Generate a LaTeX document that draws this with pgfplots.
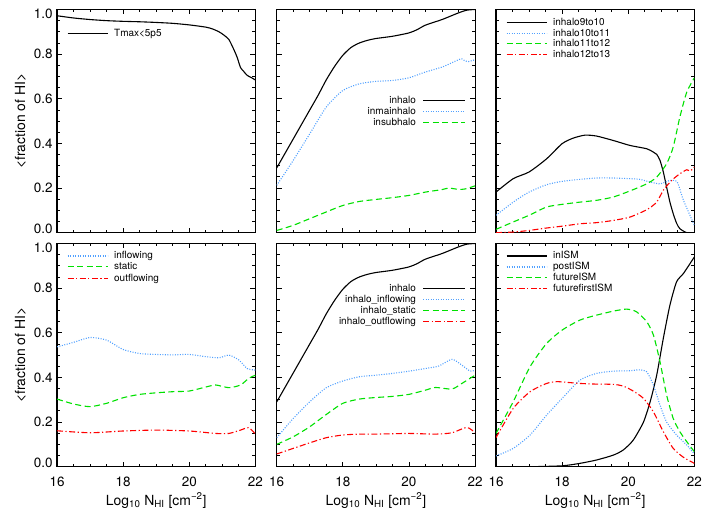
\documentclass[border=0pt]{standalone}
\usepackage{fontspec}
\setmainfont{TeX Gyre Heros}
\usepackage{pgfplots}
\pgfplotsset{compat=1.18}

\definecolor{lblue}{RGB}{80,160,255}
\definecolor{lgreen}{RGB}{0,225,0}
\definecolor{lred}{RGB}{255,0,0}

\tikzset{
  sblack/.style={draw=black, line width=1.1bp},
  sblue/.style={draw=lblue, line width=1.1bp, dash pattern=on 1bp off 1.5bp},
  sgreen/.style={draw=lgreen, line width=1.1bp, dash pattern=on 6bp off 3.5bp},
  sred/.style={draw=lred, line width=1.1bp, dash pattern=on 6bp off 2.5bp on 1.2bp off 2.5bp},
  legtext/.style={font=\fontsize{10}{11}\selectfont, inner sep=0pt, text height=6bp, text depth=0pt},
}

% legend entries: line then text (L), or text then line (R)
\newcommand{\legL}[3]{%
  \draw[#1] ([xshift=10.5bp,yshift=-#2bp]rel axis cs:0,1) -- ([xshift=50.5bp,yshift=-#2bp]rel axis cs:0,1);
  \node[legtext, anchor=west] at ([xshift=57bp,yshift=-#2bp]rel axis cs:0,1) {#3};}
\newcommand{\legR}[3]{%
  \draw[#1] ([xshift=-52bp,yshift=-#2bp]rel axis cs:1,1) -- ([xshift=-10bp,yshift=-#2bp]rel axis cs:1,1);
  \node[legtext, anchor=east] at ([xshift=-59bp,yshift=-#2bp]rel axis cs:1,1) {#3};}

\pgfplotsset{
  panel/.style={
    scale only axis, width=198.4bp, height=223.2bp, anchor=south west,
    xmin=16, xmax=22, ymin=0, ymax=1,
    xtick={16,18,20,22}, minor x tick num=3,
    ytick={0,0.2,0.4,0.6,0.8,1}, minor y tick num=3,
    tick align=inside, tick pos=both,
    major tick length=5bp, minor tick length=3bp,
    axis line style={line width=1.1bp},
    every tick/.style={black, line width=0.8bp},
    xticklabels={}, yticklabels={},
    tick label style={font=\fontsize{13.5}{14}\selectfont},
    label style={font=\fontsize{14}{15}\selectfont},
    every axis plot/.append style={smooth, tension=0.4},
  },
  ylab/.style={
    yticklabels={{\raisebox{0.4\height}[\height][\depth]{0.0}},0.2,0.4,0.6,0.8,{\raisebox{-0.5\height}[\height][\depth]{1.0}}},
    yticklabel style={anchor=east, inner sep=0pt, xshift=-4.3bp},
    ylabel={<fraction of HI>},
    ylabel style={at={(axis description cs:-0.161,0.5)}, anchor=base},
  },
  xlab/.style={
    xticklabels={16,18,20,22},
    xticklabel style={anchor=north, inner sep=0pt, yshift=-10bp},
    xlabel={Log\textsubscript{10} N\textsubscript{HI} [cm\textsuperscript{−2}]},
    xlabel style={at={(axis description cs:0.5,-0.1716)}, anchor=base},
  },
}

\begin{document}
\begin{tikzpicture}
\useasboundingbox (0,0) rectangle (709bp,519bp);

% top left
\begin{axis}[panel, ylab, at={(57bp,286.3bp)}]
\addplot[sblack] coordinates {(16,0.972)(16.5,0.962)(17,0.955)(17.5,0.950)(18,0.947)(18.5,0.945)(19,0.942)(19.5,0.938)(20,0.931)(20.5,0.921)(20.7,0.913)(20.9,0.900)(21.05,0.885)(21.2,0.865)(21.35,0.82)(21.45,0.785)(21.55,0.74)(21.65,0.722)(21.75,0.705)(21.9,0.693)(22,0.684)};
\legL{sblack}{23.7}{Tmax<5p5}
\end{axis}

% top middle
\begin{axis}[panel, at={(276.7bp,286.3bp)}]
\addplot[sblack] coordinates {(16,0.29)(16.25,0.355)(16.5,0.42)(16.75,0.485)(17,0.55)(17.25,0.615)(17.5,0.685)(17.75,0.745)(18,0.795)(18.25,0.83)(18.5,0.85)(18.75,0.862)(19,0.87)(19.5,0.88)(20,0.895)(20.25,0.91)(20.5,0.93)(21,0.955)(21.5,0.985)(21.75,0.997)(22,1.0)};
\addplot[sblue] coordinates {(16,0.212)(16.5,0.324)(17,0.443)(17.5,0.563)(18,0.637)(18.5,0.667)(19,0.678)(19.5,0.682)(20,0.694)(20.5,0.72)(21,0.742)(21.5,0.775)(21.6,0.779)(21.7,0.769)(21.8,0.767)(22,0.775)};
\addplot[sgreen] coordinates {(16,0.01)(16.5,0.033)(17,0.063)(17.5,0.093)(18,0.122)(18.5,0.14)(19,0.149)(19.5,0.157)(20,0.167)(20.5,0.182)(21,0.193)(21.2,0.2)(21.5,0.194)(21.7,0.196)(22,0.21)};
\legR{sblack}{90.7}{inhalo}
\legR{sblue}{101.7}{inmainhalo}
\legR{sgreen}{112.7}{insubhalo}
\end{axis}

% top right
\begin{axis}[panel, at={(496bp,286.3bp)}]
\addplot[sblack] coordinates {(16,0.182)(16.52,0.242)(17,0.272)(17.53,0.331)(18,0.399)(18.34,0.424)(18.69,0.437)(19.04,0.433)(19.55,0.413)(20.05,0.391)(20.56,0.376)(20.76,0.361)(20.86,0.351)(20.96,0.324)(21.06,0.272)(21.16,0.204)(21.26,0.137)(21.36,0.085)(21.46,0.043)(21.56,0.018)(21.77,0.0)(22,0.0)};
\addplot[sblue] coordinates {(16,0.078)(16.52,0.137)(17,0.182)(17.53,0.215)(18,0.23)(18.54,0.239)(19.04,0.245)(19.55,0.245)(20.05,0.242)(20.35,0.239)(20.66,0.227)(20.96,0.219)(21.26,0.234)(21.48,0.227)(21.67,0.145)(22,0.033)};
\addplot[sgreen] coordinates {(16,0.015)(16.52,0.048)(17,0.078)(17.53,0.115)(18,0.127)(18.54,0.137)(19.04,0.145)(19.55,0.16)(20.05,0.187)(20.56,0.219)(20.86,0.249)(21.16,0.309)(21.36,0.384)(21.56,0.518)(21.77,0.63)(22,0.694)};
\addplot[sred] coordinates {(16,0.0)(16.52,0.003)(17,0.01)(17.53,0.021)(18.04,0.03)(18.54,0.04)(19.04,0.045)(19.55,0.055)(20.05,0.07)(20.56,0.103)(20.86,0.137)(21.06,0.19)(21.31,0.234)(21.56,0.264)(21.77,0.282)(21.87,0.276)(22,0.294)};
\legL{sblack}{13.4}{inhalo9to10}
\legL{sblue}{23.7}{inhalo10to11}
\legL{sgreen}{34.4}{inhalo11to12}
\legL{sred}{44.7}{inhalo12to13}
\end{axis}

% bottom left
\begin{axis}[panel, ylab, xlab, at={(57bp,52.3bp)}]
\addplot[sblue] coordinates {(16,0.537)(16.5,0.557)(17,0.579)(17.5,0.567)(18,0.525)(18.5,0.507)(19,0.503)(19.5,0.501)(20,0.503)(20.5,0.493)(20.9,0.488)(21.2,0.5)(21.5,0.478)(21.75,0.44)(22,0.433)};
\addplot[sgreen] coordinates {(16,0.303)(16.5,0.281)(17,0.269)(17.5,0.284)(18,0.309)(18.5,0.324)(19,0.331)(19.5,0.336)(20,0.339)(20.5,0.357)(20.8,0.366)(21.2,0.354)(21.55,0.366)(21.8,0.396)(22,0.41)};
\addplot[sred] coordinates {(16,0.161)(17,0.152)(18,0.16)(19,0.164)(20,0.16)(20.8,0.149)(21.2,0.149)(21.55,0.164)(21.8,0.175)(22,0.146)};
\legL{sblue}{12.5}{inflowing}
\legL{sgreen}{23.3}{static}
\legL{sred}{34.6}{outflowing}
\end{axis}

% bottom middle
\begin{axis}[panel, xlab, at={(276.7bp,52.3bp)}]
\addplot[sblack] coordinates {(16,0.29)(16.25,0.355)(16.5,0.42)(16.75,0.485)(17,0.55)(17.25,0.615)(17.5,0.685)(17.75,0.745)(18,0.795)(18.25,0.83)(18.5,0.85)(18.75,0.862)(19,0.87)(19.5,0.88)(20,0.895)(20.25,0.91)(20.5,0.93)(21,0.955)(21.5,0.985)(21.75,0.997)(22,1.0)};
\addplot[sblue] coordinates {(16,0.13)(16.5,0.216)(17,0.291)(17.5,0.354)(18,0.384)(18.5,0.403)(19,0.41)(19.5,0.418)(20,0.428)(20.5,0.44)(20.9,0.451)(21.3,0.481)(21.6,0.455)(21.85,0.428)(22,0.433)};
\addplot[sgreen] coordinates {(16,0.1)(16.5,0.134)(17,0.179)(17.5,0.234)(18,0.284)(18.5,0.303)(19,0.31)(19.5,0.315)(20,0.324)(20.5,0.343)(20.8,0.355)(21.3,0.348)(21.6,0.373)(22,0.41)};
\addplot[sred] coordinates {(16,0.057)(16.5,0.082)(17,0.107)(17.5,0.13)(18,0.142)(18.5,0.146)(19,0.146)(20,0.149)(20.8,0.146)(21.3,0.152)(21.75,0.176)(22,0.152)};
\legR{sblack}{45.3}{inhalo}
\legR{sblue}{56}{inhalo\_inflowing}
\legR{sgreen}{67}{inhalo\_static}
\legR{sred}{78}{inhalo\_outflowing}
\end{axis}

% bottom right
\begin{axis}[panel, xlab, at={(496bp,52.3bp)}]
\addplot[sblack] coordinates {(16,0.0)(17.03,0.0)(18,0.004)(18.54,0.015)(19.04,0.03)(19.55,0.052)(19.85,0.075)(20.15,0.119)(20.46,0.2)(20.66,0.29)(20.86,0.41)(21.06,0.575)(21.26,0.724)(21.46,0.828)(21.67,0.866)(22,0.94)};
\addplot[sblue] coordinates {(16,0.048)(16.52,0.082)(17.03,0.142)(17.53,0.231)(18,0.306)(18.54,0.388)(19.04,0.418)(19.55,0.428)(20.05,0.43)(20.35,0.434)(20.56,0.425)(20.76,0.366)(20.96,0.276)(21.16,0.2)(21.46,0.142)(21.77,0.097)(22,0.057)};
\addplot[sgreen] coordinates {(16,0.149)(16.52,0.291)(17.03,0.448)(17.53,0.552)(18,0.612)(18.54,0.657)(19.04,0.679)(19.55,0.697)(19.95,0.706)(20.25,0.694)(20.56,0.649)(20.76,0.59)(20.96,0.47)(21.16,0.321)(21.36,0.216)(21.56,0.157)(21.77,0.112)(22,0.067)};
\addplot[sred] coordinates {(16,0.13)(16.52,0.261)(17.03,0.336)(17.53,0.373)(17.83,0.381)(18.14,0.378)(18.54,0.373)(19.04,0.37)(19.55,0.369)(19.85,0.361)(20.15,0.339)(20.46,0.306)(20.76,0.246)(21.06,0.157)(21.36,0.082)(21.67,0.042)(22,0.015)};
\legL{sblack}{12.5}{inISM}
\legL{sblue}{23.5}{postISM}
\legL{sgreen}{34.4}{futureISM}
\legL{sred}{45}{futurefirstISM}
\end{axis}
\end{tikzpicture}
\end{document}
